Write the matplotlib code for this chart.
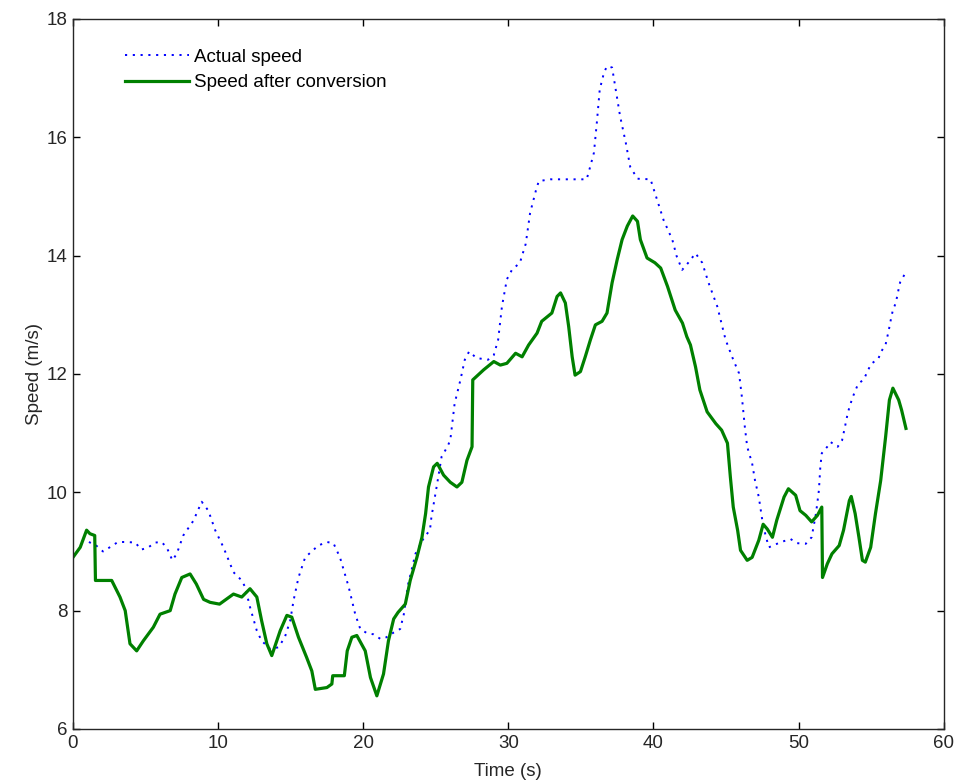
import matplotlib
matplotlib.use("Agg")
import matplotlib.pyplot as plt

# actual vehicle speed (m/s) over time (s)
t_actual = [1.1, 1.6, 2.07, 2.6, 3.1, 3.7, 4.3, 4.7, 5.2, 5.65, 6.1, 6.46, 6.85, 7.15,
            7.6, 8.3, 8.87, 9.33, 9.8, 10.37, 11.06, 11.63, 11.86, 12.2, 12.67, 13.0,
            13.6, 14.16, 14.6, 14.97, 15.2, 15.54, 16.0, 16.9, 17.5, 17.95, 18.4, 19.0,
            19.45, 19.8, 20.25, 20.7, 21.2, 21.6, 22.1, 22.55, 22.8, 23.1, 23.6, 24.2,
            24.6, 24.7, 25.1, 25.4, 25.8, 26.0, 26.3, 26.7, 27.0, 27.3, 27.8, 28.6,
            29.0, 29.3, 29.56, 29.9, 30.25, 30.8, 31.2, 31.5, 31.9, 32.1, 32.9, 34.05,
            35.4, 35.65, 35.9, 36.1, 36.3, 36.6, 36.8, 37.15, 37.4, 37.7, 38.1, 38.4,
            38.9, 39.8, 40.1, 40.7, 41.3, 41.6, 41.98, 42.4, 42.9, 43.36, 43.8, 44.4,
            44.97, 45.5, 45.9, 46.1, 46.3, 46.46, 46.8, 47.0, 47.26, 47.5, 47.7, 47.95,
            48.8, 49.45, 49.9, 50.5, 50.9, 51.2, 51.4, 51.5, 51.6, 51.98, 52.2, 52.7,
            53.0, 53.2, 53.4, 53.7, 54.1, 54.5, 54.8, 55.0, 55.5, 55.7, 56.0, 56.2,
            56.4, 56.5, 56.7, 56.9, 57.0, 57.3]
v_actual = [9.16, 9.1, 9.0, 9.08, 9.16, 9.16, 9.15, 9.03, 9.07, 9.15, 9.16, 9.07, 8.85, 8.96,
            9.27, 9.52, 9.84, 9.69, 9.36, 9.07, 8.65, 8.51, 8.4, 8.06, 7.66, 7.49,
            7.35, 7.38, 7.55, 7.83, 8.17, 8.56, 8.9, 9.1, 9.16, 9.14, 8.9, 8.4,
            7.94, 7.69, 7.62, 7.6, 7.52, 7.55, 7.63, 7.69, 7.94, 8.45, 8.96, 9.24,
            9.36, 9.58, 10.15, 10.6, 10.77, 10.88, 11.5, 11.9, 12.24, 12.38, 12.27, 12.24,
            12.32, 12.58, 13.14, 13.6, 13.76, 13.88, 14.2, 14.72, 15.1, 15.26, 15.29, 15.29,
            15.29, 15.51, 15.74, 16.25, 16.81, 17.1, 17.2, 17.18, 16.81, 16.36, 15.9, 15.5,
            15.3, 15.29, 15.06, 14.6, 14.27, 13.99, 13.76, 13.88, 14.04, 13.88, 13.54, 13.14,
            12.58, 12.24, 12.01, 11.6, 11.1, 10.77, 10.49, 10.2, 9.92, 9.53, 9.3, 9.07,
            9.16, 9.21, 9.14, 9.13, 9.24, 9.64, 10.03, 10.43, 10.66, 10.77, 10.85, 10.77,
            10.88, 11.11, 11.35, 11.59, 11.83, 11.91, 12.07, 12.17, 12.26, 12.38, 12.5, 12.72,
            12.97, 13.08, 13.2, 13.44, 13.55, 13.68]

# speed after conversion
t_conv = [0.0, 0.5, 0.94, 1.17, 1.5, 1.55, 2.67, 3.24, 3.6, 3.93, 4.39, 4.85, 5.54, 6.0,
          6.7, 7.03, 7.5, 8.07, 8.5, 9.0, 9.45, 10.1, 11.06, 11.63, 12.2, 12.67, 13.0,
          13.36, 13.7, 14.28, 14.74, 15.08, 15.54, 16.1, 16.46, 16.7, 17.5, 17.84, 17.9,
          18.7, 18.9, 19.22, 19.56, 20.14, 20.5, 20.94, 21.4, 21.74, 22.1, 22.4, 22.9,
          23.24, 23.7, 24.05, 24.3, 24.5, 24.85, 25.1, 25.54, 26.0, 26.46, 26.8, 27.15,
          27.5, 27.55, 28.3, 29.0, 29.45, 29.9, 30.5, 30.95, 31.4, 31.98, 32.3, 33.0,
          33.36, 33.6, 33.93, 34.16, 34.4, 34.6, 34.97, 35.3, 35.66, 36.0, 36.46, 36.8,
          37.15, 37.5, 37.84, 38.2, 38.57, 38.9, 39.1, 39.56, 40.1, 40.5, 40.97, 41.5,
          42.0, 42.3, 42.55, 42.9, 43.2, 43.7, 44.3, 44.7, 45.1, 45.3, 45.5, 45.8,
          46.0, 46.46, 46.8, 47.26, 47.56, 47.84, 48.2, 48.5, 49.0, 49.3, 49.8, 50.1,
          50.5, 50.9, 51.3, 51.6, 51.65, 51.98, 52.3, 52.8, 53.1, 53.5, 53.63, 53.9,
          54.16, 54.4, 54.6, 54.97, 55.3, 55.66, 56.0, 56.26, 56.5, 56.9, 57.1, 57.4]
v_conv = [8.9, 9.07, 9.36, 9.3, 9.27, 8.51, 8.51, 8.23, 8.0, 7.44, 7.32, 7.49, 7.72, 7.94,
          8.0, 8.28, 8.56, 8.62, 8.45, 8.19, 8.14, 8.11, 8.28, 8.23, 8.37, 8.23, 7.83,
          7.44, 7.24, 7.66, 7.92, 7.89, 7.55, 7.21, 6.98, 6.67, 6.7, 6.76, 6.9,
          6.9, 7.32, 7.55, 7.58, 7.32, 6.87, 6.56, 6.93, 7.49, 7.86, 7.97, 8.11,
          8.51, 8.9, 9.24, 9.64, 10.09, 10.43, 10.49, 10.29, 10.17, 10.09, 10.17, 10.54,
          10.77, 11.9, 12.07, 12.21, 12.15, 12.18, 12.35, 12.29, 12.49, 12.69, 12.89, 13.03,
          13.31, 13.37, 13.2, 12.8, 12.29, 11.98, 12.04, 12.29, 12.58, 12.83, 12.89, 13.03,
          13.54, 13.93, 14.27, 14.5, 14.67, 14.58, 14.27, 13.96, 13.88, 13.79, 13.48, 13.08,
          12.86, 12.63, 12.49, 12.12, 11.73, 11.36, 11.16, 11.05, 10.83, 10.26, 9.75, 9.36,
          9.02, 8.85, 8.9, 9.19, 9.46, 9.38, 9.24, 9.53, 9.92, 10.06, 9.95, 9.69,
          9.61, 9.5, 9.61, 9.75, 8.56, 8.79, 8.96, 9.1, 9.36, 9.86, 9.93, 9.64,
          9.24, 8.85, 8.82, 9.07, 9.64, 10.2, 10.94, 11.56, 11.76, 11.56, 11.39, 11.08]

plt.rcParams['font.family'] = ['Liberation Sans', 'DejaVu Sans']
plt.rcParams['font.size'] = 13.5

fig = plt.figure(figsize=(9.6, 7.84), dpi=100)
ax = fig.add_axes([0.076, 0.0702, 0.907, 0.9056])

ax.plot(t_actual, v_actual, color='#0000ff', lw=1.4, linestyle=(0, (1.1, 2.9)),
        label='Actual speed')
ax.plot(t_conv, v_conv, color='#008000', lw=2.3, label='Speed after conversion')

ax.set_xlim(0, 60)
ax.set_ylim(6, 18)
ax.set_xticks(range(0, 61, 10))
ax.set_yticks(range(6, 19, 2))
ax.tick_params(direction='in', length=5, width=1, top=True, right=True,
               labelcolor='#262626', pad=4)
for s in ax.spines.values():
    s.set_linewidth(1)
    s.set_color('#262626')

ax.set_xlabel('Time (s)', color='#262626', labelpad=8)
ax.set_ylabel('Speed (m/s)', color='#262626', labelpad=2.5)

ax.legend(loc='upper left', bbox_to_anchor=(0.047, 0.974), frameon=False,
          handlelength=3.4, handletextpad=0.25, labelspacing=0.45,
          borderaxespad=0.2)

fig.savefig('out.png', dpi=100)
